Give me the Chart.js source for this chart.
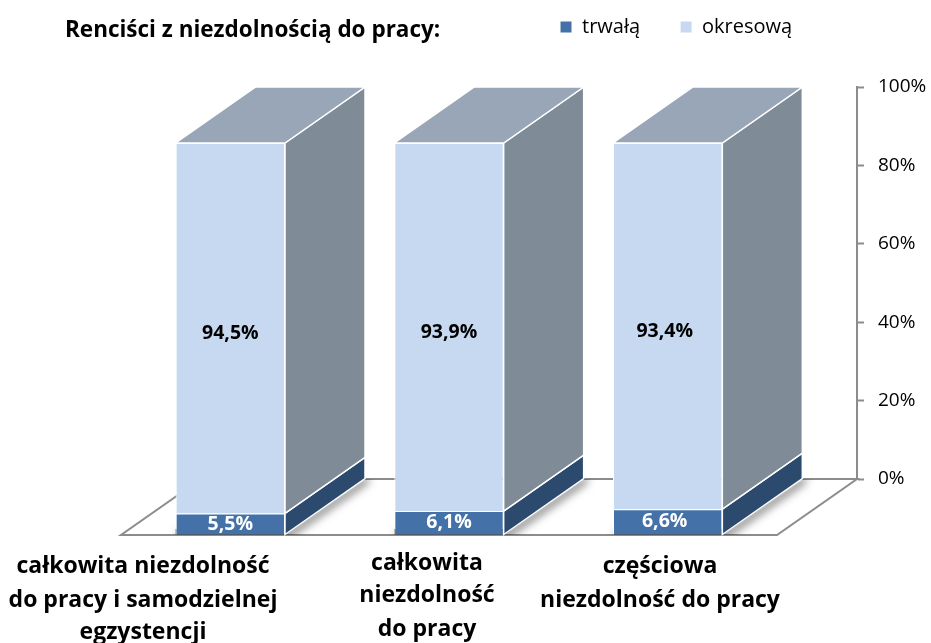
<!DOCTYPE html>
<html><head><meta charset="utf-8">
<style>html,body{margin:0;padding:0;background:#fff}#w{width:931px;height:643px}</style>
<script src="https://cdn.jsdelivr.net/npm/chart.js@4"></script></head>
<body><div id="w"><canvas id="c"></canvas></div>
<script>
const categories=[["całkowita niezdolność","do pracy i samodzielnej","egzystencji"],["całkowita","niezdolność","do pracy"],["częściowa","niezdolność do pracy"]];
const trwala=[5.5,6.1,6.6];
const okresowa=[94.5,93.9,93.4];
const seriesNames=["trwałą","okresową"];
const titleText="Renciści z niezdolnością do pracy:";
const FONT='"Open Sans", Lato, sans-serif';
const DX=80, DY=56;
const labelNudgeX=[0,0,-3];
const catCenters=[143,427,660];
const catLineY=[[566,600,632],[563,595,629],[566,600]];
const palette={side:["#2c4a6e","#7f8c98"],top:"#98a6b7",floor:"#8c8c8c"};

function poly(ctx,pts){ctx.beginPath();pts.forEach((p,i)=>i?ctx.lineTo(p[0],p[1]):ctx.moveTo(p[0],p[1]));ctx.closePath();}

const box3d={id:"box3d",
 afterLayout(chart){
  const t=chart.titleBlock,l=chart.legend;
  t.left=65;t.right=600;t.top=19;t.bottom=41;
  l.left=520;l.right=931;l.top=-23;
 },
 beforeDatasetsDraw(chart){
  const ctx=chart.ctx,a=chart.chartArea,b=a.bottom,fl=[[a.left,b],[a.right,b],[a.right-DX,b+DY],[a.left-DX,b+DY]];
  ctx.save();
  poly(ctx,fl);ctx.strokeStyle=palette.floor;ctx.lineWidth=2;ctx.stroke();
  // soft shadow of each column on the floor
  ctx.save();poly(ctx,fl);ctx.clip();
  chart.getDatasetMeta(0).data.forEach(el=>{
   const r=el.x+el.width/2,lx=el.x-el.width/2;
   ctx.shadowColor="rgba(0,0,0,0.7)";ctx.shadowBlur=10;ctx.shadowOffsetX=3;ctx.shadowOffsetY=3;
   ctx.fillStyle="#555";
   poly(ctx,[[lx-DX,b+DY-6],[r-DX,b+DY-6],[r,b-6],[r,b],[r-DX,b+DY],[lx-DX,b+DY]]);ctx.fill();
  });
  ctx.restore();
  // side and top faces
  ctx.lineWidth=1.5;ctx.strokeStyle="#fff";
  chart.data.datasets.forEach((ds,i)=>{
   chart.getDatasetMeta(i).data.forEach(el=>{
    const r=el.x+el.width/2,lx=el.x-el.width/2,base=el.base,y=el.y;
    ctx.fillStyle=palette.side[i];
    poly(ctx,[[r-DX,base+DY],[r,base],[r,y],[r-DX,y+DY]]);ctx.fill();ctx.stroke();
    if(i===chart.data.datasets.length-1){
     ctx.fillStyle=palette.top;
     poly(ctx,[[lx-DX,y+DY],[lx,y],[r,y],[r-DX,y+DY]]);ctx.fill();ctx.stroke();
    }
   });
  });
  ctx.restore();
 },
 beforeDatasetDraw(chart){chart.ctx.save();chart.ctx.translate(-DX,DY);},
 afterDatasetDraw(chart){chart.ctx.restore();},
 afterDatasetsDraw(chart){
  const ctx=chart.ctx;ctx.save();
  ctx.textAlign="center";ctx.textBaseline="middle";ctx.font="bold 19.5px "+FONT;
  chart.data.datasets.forEach((ds,i)=>{
   chart.getDatasetMeta(i).data.forEach((el,j)=>{
    ctx.fillStyle=i===0?"#fff":"#000";
    const mid=(el.y+el.base)/2+DY+(i===0?0:5);
    ctx.fillText(ds.data[j].toFixed(1).replace(".",",")+"%",el.x-DX+labelNudgeX[j],mid);
   });
  });
  ctx.font="bold 23px "+FONT;ctx.fillStyle="#000";
  categories.forEach((lines,j)=>lines.forEach((s,k)=>ctx.fillText(s,catCenters[j],catLineY[j][k])));
  ctx.restore();
 }
};

new Chart(document.getElementById("c"),{
 type:"bar",
 data:{labels:categories,datasets:[
  {label:seriesNames[0],data:trwala,backgroundColor:"#4472a8",borderColor:"#fff",borderWidth:1,clip:false},
  {label:seriesNames[1],data:okresowa,backgroundColor:"#c6d9f0",borderColor:"#fff",borderWidth:1,clip:false}
 ]},
 options:{
  responsive:true,maintainAspectRatio:false,animation:false,
  layout:{padding:{left:201,right:0,top:0,bottom:0}},
  datasets:{bar:{barPercentage:0.5,categoryPercentage:1}},
  plugins:{
   title:{display:true,text:titleText,align:"start",color:"#000",font:{family:FONT,size:22.5,weight:"bold",lineHeight:1},padding:{top:0,bottom:25.5}},
   legend:{display:true,position:"top",align:"start",maxHeight:39,
    labels:{boxWidth:12,boxHeight:12,padding:40,color:"#000",font:{family:FONT,size:20}}},
   tooltip:{enabled:false}
  },
  scales:{
   x:{stacked:true,grid:{display:false},border:{display:false},ticks:{display:false},afterFit(s){s.height=164;}},
   y:{stacked:true,position:"right",min:0,max:100,
    afterFit(s){s.width=74;},
    grid:{drawOnChartArea:false,drawTicks:true,tickLength:7,tickColor:"#8c8c8c",tickWidth:2},
    border:{display:true,color:"#8c8c8c",width:2},
    ticks:{stepSize:20,padding:14,color:"#000",font:{family:FONT,size:19},callback:v=>v+"%"}}
  }
 },
 plugins:[box3d]
});
</script></body></html>
